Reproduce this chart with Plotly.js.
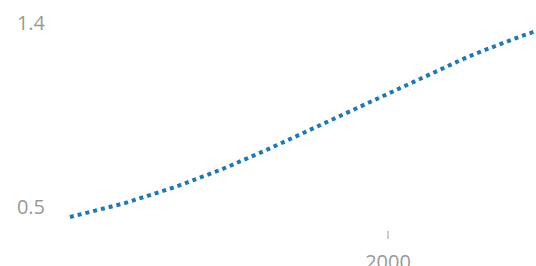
<!DOCTYPE html>
<html>
<head>
<meta charset="utf-8">
<script src="https://cdn.plot.ly/plotly-3.0.1.min.js"></script>
<style>html,body{margin:0;padding:0;background:#fff;}#chart{width:536px;height:266px;}</style>
</head>
<body>
<div id="chart"></div>
<script>
const years = [1960,1961,1962,1963,1964,1965,1966,1967,1968,1969,
  1970,1971,1972,1973,1974,1975,1976,1977,1978,1979,
  1980,1981,1982,1983,1984,1985,1986,1987,1988,1989,
  1990,1991,1992,1993,1994,1995,1996,1997,1998,1999,
  2000,2001,2002,2003,2004,2005,2006,2007,2008,2009,
  2010,2011,2012,2013,2014,2015,2016,2017,2018,2019,2020];
const values = [0.451,0.460,0.469,0.479,0.489,0.499,0.510,0.520,0.532,0.543,
  0.555,0.568,0.581,0.595,0.609,0.623,0.638,0.652,0.667,0.683,
  0.699,0.715,0.732,0.749,0.767,0.784,0.802,0.820,0.837,0.855,
  0.873,0.891,0.909,0.927,0.946,0.964,0.982,1.001,1.019,1.038,
  1.057,1.075,1.093,1.112,1.130,1.148,1.165,1.183,1.201,1.218,
  1.234,1.250,1.266,1.281,1.296,1.310,1.325,1.339,1.353,1.366,1.380];
const xTicks = [2000];
const yTicks = [0.5, 1.4];

Plotly.newPlot('chart', [{
  x: years, y: values, type: 'scatter', mode: 'lines',
  line: {color: '#1f77b4', width: 4, dash: 'dot'},
  hoverinfo: 'none'
}], {
  width: 536, height: 266,
  margin: {l: 50, r: 0, t: 0, b: 36},
  paper_bgcolor: '#fff', plot_bgcolor: '#fff',
  showlegend: false,
  font: {family: 'Open Sans, sans-serif', size: 20, color: '#999'},
  xaxis: {range: [1957.5, 2018.6], tickvals: xTicks, ticktext: xTicks.map(String),
    showgrid: false, zeroline: false, showline: false,
    ticks: 'outside', ticklen: 8, tickwidth: 2, tickcolor: '#ccc', ticklabelstandoff: 6},
  yaxis: {range: [0.3875, 1.5125], tickvals: yTicks, ticktext: ['0.5','1.4'],
    showgrid: false, zeroline: false, showline: false, ticks: '', ticklabelstandoff: 4}
}, {staticPlot: true});
</script>
</body>
</html>
